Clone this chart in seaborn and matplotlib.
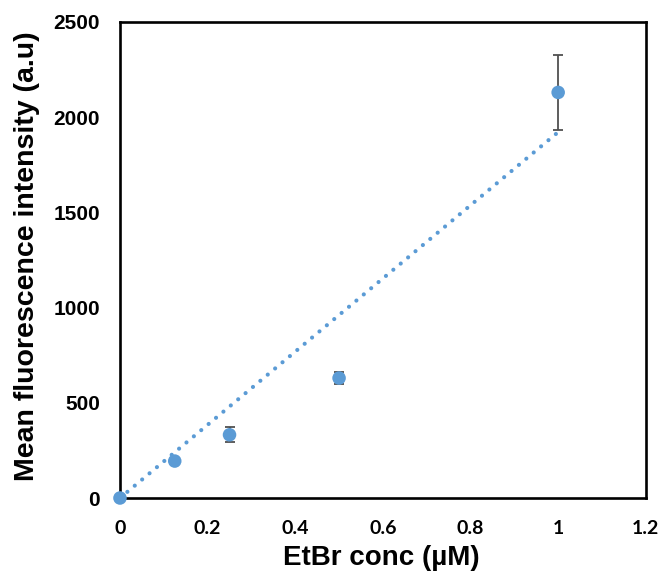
import numpy as np
import pandas as pd
import matplotlib
matplotlib.use("Agg")
import matplotlib.pyplot as plt
import seaborn as sns
from matplotlib.ticker import FuncFormatter

# Dados
conc_uM = [0.0, 0.125, 0.25, 0.5, 1.0]
intensidade = [0, 194, 332, 630, 2130]
erro = [0, 15, 40, 30, 195]

x_ticks = [0, 0.2, 0.4, 0.6, 0.8, 1.0, 1.2]
y_ticks = [0, 500, 1000, 1500, 2000, 2500]

azul = "#5B9BD5"

sns.set_theme(style="white")
plt.rcParams['font.family'] = ['Liberation Sans', 'DejaVu Sans']
plt.rcParams['text.color'] = 'black'
plt.rcParams['axes.labelcolor'] = 'black'

df = pd.DataFrame({'conc': conc_uM, 'mfi': intensidade, 'err': erro})

fig = plt.figure(figsize=(6.61, 5.78), dpi=100)
ax = fig.add_axes([0.1815, 0.1384, 0.7955, 0.8236])

# Linha de tendência linear passando pela origem
x = np.array(conc_uM)
y = np.array(intensidade)
slope = np.sum(x * y) / np.sum(x * x)
df_trend = pd.DataFrame({'conc': [x.min(), x.max()], 'mfi': [slope * x.min(), slope * x.max()]})
sns.lineplot(data=df_trend, x='conc', y='mfi', ax=ax, color=azul, lw=3.0,
             linestyle=(0, (0.01, 2.3)), dash_capstyle='round', zorder=2)

# Barras de erro
ax.errorbar(df['conc'], df['mfi'], yerr=df['err'], fmt='none', ecolor='#505050',
            elinewidth=1.3, capsize=3.5, capthick=1.3, zorder=3)

sns.scatterplot(data=df, x='conc', y='mfi', ax=ax, color=azul, s=95,
                edgecolor='none', zorder=4, clip_on=False)

ax.set_xlim(0, 1.2)
ax.set_ylim(0, 2500)
ax.set_xticks(x_ticks)
ax.set_yticks(y_ticks)
ax.xaxis.set_major_formatter(FuncFormatter(lambda v, p: f"{v:g}"))
ax.tick_params(direction='in', length=4.5, width=1.5, colors='black')
ax.tick_params(axis='x', pad=16)
ax.tick_params(axis='y', pad=14.4)
for lbl in ax.get_xticklabels():
    lbl.set_fontfamily(['Lato', 'DejaVu Sans'])
    lbl.set_fontweight('bold')
    lbl.set_fontsize(14)
for lbl in ax.get_yticklabels():
    lbl.set_fontweight('bold')
    lbl.set_fontsize(15)

for s in ax.spines.values():
    s.set_visible(True)
    s.set_color('black')
    s.set_linewidth(1.9)
    s.set_zorder(3.5)

ax.set_xlabel("EtBr conc (µM)", fontsize=20, fontweight='bold')
ax.set_ylabel("Mean fluorescence intensity (a.u)", fontsize=20.5, fontweight='bold')
ax.xaxis.set_label_coords(0.497, -0.099)
ax.yaxis.set_label_coords(-0.152, 0.507)
ax.grid(False)

fig.savefig("out.png", dpi=100)
